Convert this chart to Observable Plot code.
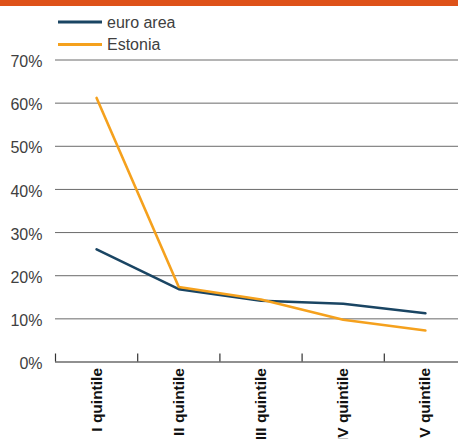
<!DOCTYPE html>
<html>
<head>
<meta charset="utf-8">
<script src="https://cdn.jsdelivr.net/npm/d3@7"></script>
<script src="https://cdn.jsdelivr.net/npm/@observablehq/plot@0.6"></script>
<style>
  html, body { margin: 0; padding: 0; background: #fff; width: 458px; height: 439px; overflow: hidden; }
  body { position: relative; font-family: "Liberation Sans", Arial, sans-serif; }
  #topbar { position: absolute; left: 0; top: 0; width: 458px; height: 6px; background: #de5219; }
  #legend { position: absolute; left: 0; top: 0; width: 458px; height: 60px; }
  #chart { position: absolute; left: 0; top: 0; }
  #chart svg { overflow: hidden; }
</style>
</head>
<body>
<div id="chart"></div>
<div id="topbar"></div>
<div id="legend"></div>
<script>
const categories = ["I quintile", "II quintile", "III quintile", "IV quintile", "V quintile"];
const seriesNames = ["euro area", "Estonia"];
const euroArea = [26.1, 16.9, 14.2, 13.5, 11.3];
const estonia = [61.2, 17.4, 14.5, 9.8, 7.3];
const yTicks = [0, 10, 20, 30, 40, 50, 60, 70];
const colors = ["#1a4563", "#f5a11d"];

const rows = [];
categories.forEach((c, i) => {
  rows.push({series: seriesNames[0], pos: i + 0.5, value: euroArea[i]});
  rows.push({series: seriesNames[1], pos: i + 0.5, value: estonia[i]});
});
const catRows = categories.map((c, i) => ({label: c, pos: i + 0.5, edge: i}));

const textColor = "#404040";

const chart = Plot.plot({
  width: 458,
  height: 439,
  marginLeft: 55,
  marginRight: 0,
  marginTop: 59.5,
  marginBottom: 77.5,
  style: {fontFamily: "Liberation Sans, Arial, sans-serif", background: "transparent", overflow: "hidden"},
  x: {domain: [0, categories.length], range: [55, 466], axis: null},
  y: {domain: [0, 70], range: [361.5, 59.5], axis: null},
  color: {domain: seriesNames, range: colors},
  marks: [
    Plot.ruleY(yTicks.filter(d => d > 0), {stroke: "#6a6a6a", strokeWidth: 1}),
    Plot.ruleY([0], {stroke: "#222", strokeWidth: 1.2}),
    Plot.ruleX(catRows, {x: "edge", y1: 0, y2: 0, insetTop: -8, stroke: "#333", strokeWidth: 1.2}),
    Plot.text(yTicks, {
      x: 0, y: d => d, text: d => d + "%", frameAnchor: "left",
      textAnchor: "end", dx: -13, dy: 2, fontSize: 16, fill: textColor
    }),
    Plot.text(catRows, {
      x: "pos", y: 0, text: "label", rotate: -90, textAnchor: "end",
      dy: 6, fontSize: 15.5, fontWeight: "bold", fill: "#111"
    }),
    Plot.line(rows, {x: "pos", y: "value", z: "series", stroke: "series", strokeWidth: 2.6, strokeLinejoin: "miter", curve: "linear"})
  ]
});
document.getElementById("chart").appendChild(chart);

// Legend
const legend = d3.select("#legend").append("svg").attr("width", 458).attr("height", 60);
const ly = [22, 44.5];
seriesNames.forEach((name, i) => {
  legend.append("line").attr("x1", 58).attr("x2", 102).attr("y1", ly[i]).attr("y2", ly[i])
    .attr("stroke", colors[i]).attr("stroke-width", 2.8);
  legend.append("text").attr("x", 107).attr("y", ly[i] + 5.5)
    .attr("font-family", "Liberation Sans, Arial, sans-serif").attr("font-size", 16)
    .attr("fill", textColor).text(name);
});
</script>
</body>
</html>
